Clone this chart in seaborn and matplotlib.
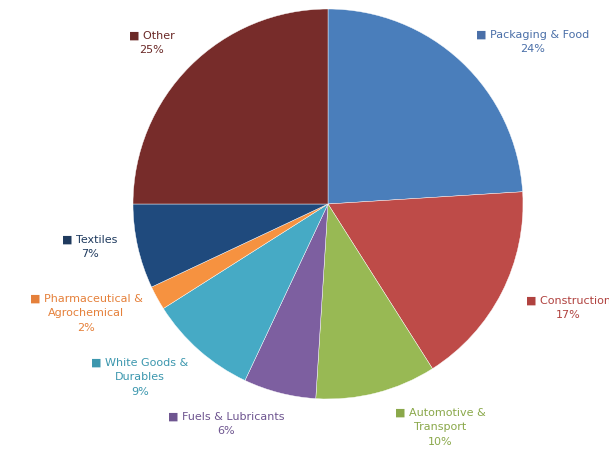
import matplotlib
matplotlib.use("Agg")
import matplotlib.pyplot as plt
import seaborn as sns

# market share by end use
categories = ["Packaging & Food", "Construction", "Automotive &\nTransport", "Fuels & Lubricants",
              "White Goods &\nDurables", "Pharmaceutical &\nAgrochemical", "Textiles", "Other"]
shares = [24, 17, 10, 6, 9, 2, 7, 25]
colors = ["#4a7ebb", "#be4b48", "#98b954", "#7d5fa0", "#46aac5", "#f69240", "#1f4a7d", "#772c2a"]
text_colors = ["#4a6fa8", "#b0423f", "#8aa84a", "#6e5590", "#3c97ae", "#e5803a", "#1f3a5e", "#6a2826"]

# label anchor points (pixels, top-left origin)
label_pos = [(533, 42), (568, 308), (440, 427), (226, 424), (140, 377), (86, 313), (90, 247), (152, 43)]

W, H = 609, 451
sns.set_theme(style="white")
plt.rcParams["font.family"] = ["DejaVu Sans"]

fig = plt.figure(figsize=(W / 100, H / 100), dpi=100)
cx, cy, r = 328, 204, 195
ax = fig.add_axes([(cx - r) / W, (H - cy - r) / H, 2 * r / W, 2 * r / H])
ax.pie(shares, colors=colors, startangle=90, counterclock=False, radius=1,
       wedgeprops={"linewidth": 0.3, "edgecolor": "white"})
ax.set_xlim(-1, 1)
ax.set_ylim(-1, 1)
ax.set_aspect("equal")
ax.axis("off")

for name, val, col, (x, y) in zip(categories, shares, text_colors, label_pos):
    lines = name.split("\n")
    txt = "\u25a0 " + lines[0]
    if len(lines) > 1:
        txt += "\n" + lines[1]
    txt += "\n" + f"{val}%"
    fig.text(x / W, 1 - y / H, txt, ha="center", va="center", multialignment="center",
             color=col, fontsize=8, linespacing=1.6)

fig.savefig("out.png", dpi=100, facecolor="white")
